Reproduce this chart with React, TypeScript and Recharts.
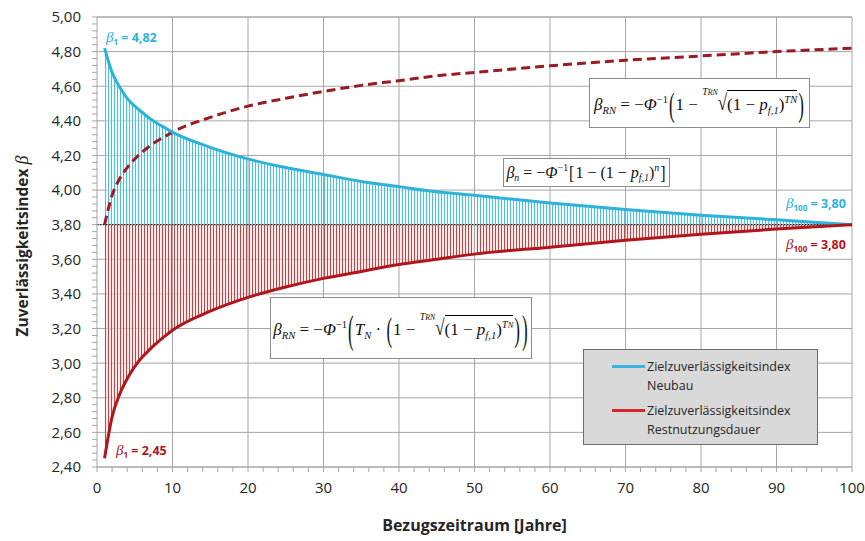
import React from "react";
import { ComposedChart, Area, Line, XAxis, YAxis, CartesianGrid, ReferenceLine } from "recharts";

// Bezugszeitraum / Restnutzungsdauer in Jahren
const years = [1, 2, 3, 4, 5, 6, 7, 8, 9, 10, 15, 20, 25, 30, 35, 40, 45, 50, 60, 70, 80, 90, 100];
// Zielzuverlässigkeitsindex Neubau (beta_n)
const neubau = [4.82, 4.68, 4.595, 4.53, 4.485, 4.448, 4.414, 4.385, 4.36, 4.335, 4.247, 4.18, 4.13, 4.09, 4.05, 4.02, 3.99, 3.97, 3.925, 3.888, 3.855, 3.828, 3.8];
// Zielzuverlässigkeitsindex Restnutzungsdauer (beta_RN, mit T_N)
const restnutzung = [2.45, 2.69, 2.82, 2.91, 2.98, 3.035, 3.08, 3.12, 3.156, 3.19, 3.3, 3.38, 3.44, 3.49, 3.53, 3.57, 3.6, 3.63, 3.67, 3.71, 3.745, 3.775, 3.8];
// beta_RN ohne T_N (gestrichelt)
const restnutzungOhneTN = [3.8, 3.97, 4.065, 4.13, 4.18, 4.22, 4.255, 4.285, 4.31, 4.335, 4.42, 4.485, 4.53, 4.57, 4.605, 4.632, 4.66, 4.68, 4.718, 4.75, 4.775, 4.8, 4.82];

const xMajorTicks = [0, 10, 20, 30, 40, 50, 60, 70, 80, 90, 100];
const yMajorTicks = [2.4, 2.6, 2.8, 3.0, 3.2, 3.4, 3.6, 3.8, 4.0, 4.2, 4.4, 4.6, 4.8, 5.0];

const xMinorTicks = Array.from({ length: 51 }, (_, i) => i * 2);
const yMinorTicks = Array.from({ length: 66 }, (_, i) => Math.round((2.4 + i * 0.04) * 100) / 100);

const rows = years.map((year, i) => ({
  year,
  neubau: neubau[i],
  restnutzung: restnutzung[i],
  restnutzungOhneTN: restnutzungOhneTN[i],
}));

const BLUE = "#2eb2da";
const RED = "#b0161c";
const DARKRED = "#9a1b24";
const GRID = "#a6a6a6";
const FONT = "'Open Sans', sans-serif";
const MATH = "'Liberation Serif', 'DejaVu Serif', serif";

const isMajorY = (v: number) => yMajorTicks.some((t) => Math.abs(t - v) < 1e-6);

function XTick(props: any) {
  const { x, y, payload } = props;
  if (payload.value % 10 !== 0) return <g />;
  return (
    <text x={x} y={y} dy="0.71em" textAnchor="middle" fontSize={15} fontFamily={FONT} fill="#262626">
      {payload.value}
    </text>
  );
}

function YTick(props: any) {
  const { x, y, payload } = props;
  if (!isMajorY(payload.value)) return <g />;
  return (
    <text x={x} y={y} dy="0.36em" textAnchor="end" fontSize={15} fontFamily={FONT} fill="#262626">
      {payload.value.toFixed(2).replace(".", ",")}
    </text>
  );
}

function YTitle(props: any) {
  const vb = props.viewBox || { x: 37, y: 17, width: 60, height: 450 };
  const cx = 22;
  const cy = vb.y + vb.height / 2 + 4;
  return (
    <text
      x={cx}
      y={cy}
      transform={`rotate(-90 ${cx} ${cy})`}
      textAnchor="middle"
      dominantBaseline="central"
      fontFamily={FONT}
      fontWeight={700}
      fontSize={15.5}
      fill="#262626"
    >
      Zuverlässigkeitsindex{" "}
      <tspan fontFamily={MATH} fontStyle="italic" fontWeight={400} fontSize={18}>
        β
      </tspan>
    </text>
  );
}

const I = ({ children }: { children: React.ReactNode }) => <span style={{ fontStyle: "italic" }}>{children}</span>;
const Sb = ({ children }: { children: React.ReactNode }) => (
  <span style={{ fontSize: "0.62em", fontStyle: "italic", verticalAlign: "-0.3em" }}>{children}</span>
);
const Sp = ({ children }: { children: React.ReactNode }) => (
  <span style={{ fontSize: "0.62em", verticalAlign: "0.7em" }}>{children}</span>
);
const Paren = ({ c, scale = 1.6 }: { c: string; scale?: number }) => (
  <span style={{ display: "inline-block", transform: `scaleY(${scale})`, margin: "0 1px" }}>{c}</span>
);

function Root({ index, children }: { index: React.ReactNode; children: React.ReactNode }) {
  return (
    <span style={{ display: "inline-flex", alignItems: "flex-end", verticalAlign: "bottom" }}>
      <span style={{ fontSize: "0.58em", fontStyle: "italic", alignSelf: "flex-start", marginTop: -4, marginRight: 0 }}>
        {index}
      </span>
      <span style={{ display: "inline-block", transform: "scaleY(1.3)", transformOrigin: "bottom" }}>√</span>
      <span style={{ borderTop: "1px solid #000", paddingTop: 3, whiteSpace: "nowrap" }}>{children}</span>
    </span>
  );
}

const box = (left: number, top: number, width: number, height: number, size: number): React.CSSProperties => ({
  position: "absolute",
  left,
  top,
  width,
  height,
  background: "#fff",
  border: "1px solid #8c8c8c",
  boxSizing: "border-box",
  display: "flex",
  alignItems: "center",
  justifyContent: "center",
  fontFamily: MATH,
  fontSize: size,
  color: "#111",
  whiteSpace: "nowrap",
});

function Label({ left, top, color, sub, value }: { left: number; top: number; color: string; sub: string; value: string }) {
  return (
    <div
      style={{
        position: "absolute",
        left,
        top,
        transform: "translateY(-50%)",
        color,
        fontFamily: FONT,
        fontWeight: 700,
        fontSize: 12.5,
        whiteSpace: "nowrap",
      }}
    >
      <span style={{ fontFamily: MATH, fontStyle: "italic", fontWeight: 400, fontSize: 15 }}>β</span>
      <span style={{ fontSize: 8, verticalAlign: "-0.3em" }}>{sub}</span> = {value}
    </div>
  );
}

function LegendBox() {
  const item = (color: string, l1: string, l2: string) => (
    <div style={{ display: "flex", alignItems: "flex-start", marginBottom: 6 }}>
      <div style={{ width: 33, height: 3, background: color, marginTop: 8, marginRight: 2 }} />
      <div style={{ lineHeight: "19px" }}>
        {l1}
        <br />
        {l2}
      </div>
    </div>
  );
  return (
    <div
      style={{
        position: "absolute",
        left: 583,
        top: 349,
        width: 235,
        height: 96,
        boxSizing: "border-box",
        background: "#d9d9d9",
        border: "1px solid #6e6e6e",
        padding: "7px 0 0 28px",
        fontFamily: FONT,
        fontSize: 12.5,
        color: "#262626",
      }}
    >
      {item("#3cb4e0", "Zielzuverlässigkeitsindex", "Neubau")}
      {item("#d22a2a", "Zielzuverlässigkeitsindex", "Restnutzungsdauer")}
    </div>
  );
}

export default function App() {
  return (
    <div style={{ position: "absolute", left: 0, top: 0, width: 865, height: 541, background: "#fff" }}>
      <ComposedChart width={865} height={541} data={rows} margin={{ top: 17, right: 13, bottom: 44, left: 37 }}>
        <defs>
          <pattern id="blueHatch" patternUnits="userSpaceOnUse" width="3" height="4">
            <rect width="3" height="4" fill="#e4f5fa" fillOpacity={0.5} />
            <rect width="1" height="4" fill="#4fbfdb" />
          </pattern>
          <pattern id="redHatch" patternUnits="userSpaceOnUse" width="3" height="4">
            <rect width="3" height="4" fill="#f6dcdc" fillOpacity={0.6} />
            <rect width="1" height="4" fill="#b9484b" />
          </pattern>
        </defs>
        <CartesianGrid stroke={GRID} strokeWidth={1} vertical={false} horizontalValues={yMajorTicks} />
        <XAxis
          dataKey="year"
          type="number"
          domain={[0, 100]}
          ticks={xMinorTicks}
          interval={0}
          tick={<XTick />}
          tickSize={5}
          tickMargin={10}
          stroke={GRID}
          height={30}
          label={{ value: "Bezugszeitraum [Jahre]", position: "insideBottom", offset: -34, fill: "#262626", fontFamily: FONT, fontWeight: 700, fontSize: 16 }}
        />
        <YAxis
          type="number"
          domain={[2.4, 5.0]}
          ticks={yMinorTicks}
          interval={0}
          tick={<YTick />}
          tickSize={5}
          tickMargin={11}
          stroke={GRID}
          width={60}
          label={<YTitle />}
        />
        {xMajorTicks.slice(1).map((v) => (
          <ReferenceLine key={`vx${v}`} x={v} stroke={GRID} />
        ))}
        <ReferenceLine y={5.0} stroke={GRID} />
        <Area type="monotone" dataKey="neubau" baseValue={3.8} fill="url(#blueHatch)" fillOpacity={1} stroke="none" isAnimationActive={false} />
        <Area type="monotone" dataKey="restnutzung" baseValue={3.8} fill="url(#redHatch)" fillOpacity={1} stroke="none" isAnimationActive={false} />
        <ReferenceLine y={3.8} stroke="#222" strokeDasharray="1.5 1.5" strokeWidth={1.2} />
        <Line type="monotone" dataKey="restnutzungOhneTN" stroke={DARKRED} strokeWidth={3} strokeDasharray="9 5" dot={false} isAnimationActive={false} />
        <Line type="monotone" dataKey="neubau" stroke={BLUE} strokeWidth={3} dot={false} isAnimationActive={false} />
        <Line type="monotone" dataKey="restnutzung" stroke={RED} strokeWidth={3} dot={false} isAnimationActive={false} />
      </ComposedChart>

      <LegendBox />

      <Label left={106} top={38} color={BLUE} sub="1" value="4,82" />
      <Label left={116} top={451} color={RED} sub="1" value="2,45" />
      <Label left={786} top={204} color={BLUE} sub="100" value="3,80" />
      <Label left={786} top={245} color={RED} sub="100" value="3,80" />

      <div style={box(589, 78, 221, 50, 17)}>
        <span>
          <I>β</I>
          <Sb>RN</Sb> = −<I>Φ</I>
          <Sp>−1</Sp>
          <Paren c="(" scale={2} />1 −{" "}
          <Root index={<>T<span style={{ fontSize: "0.8em" }}>RN</span></>}>
            (1 − <I>p</I>
            <Sb>f,1</Sb>)<Sp><I>TN</I></Sp>
          </Root>
          <Paren c=")" scale={2} />
        </span>
      </div>

      <div style={box(503, 158, 167, 29, 16)}>
        <span>
          <I>β</I>
          <Sb>n</Sb> = −<I>Φ</I>
          <Sp>−1</Sp>
          <Paren c="[" scale={1.2} />1 − (1 − <I>p</I>
          <Sb>f,1</Sb>)<Sp><I>n</I></Sp>
          <Paren c="]" scale={1.2} />
        </span>
      </div>

      <div style={box(270, 297, 262, 62, 17)}>
        <span>
          <I>β</I>
          <Sb>RN</Sb> = −<I>Φ</I>
          <Sp>−1</Sp>
          <Paren c="(" scale={2.4} />
          <I>T</I>
          <Sb>N</Sb> · <Paren c="(" scale={2} />1 −{" "}
          <Root index={<>T<span style={{ fontSize: "0.8em" }}>RN</span></>}>
            (1 − <I>p</I>
            <Sb>f,1</Sb>)<Sp><I>T<span style={{ fontSize: "0.8em" }}>N</span></I></Sp>
          </Root>
          <Paren c=")" scale={2} />
          <Paren c=")" scale={2.4} />
        </span>
      </div>
    </div>
  );
}
